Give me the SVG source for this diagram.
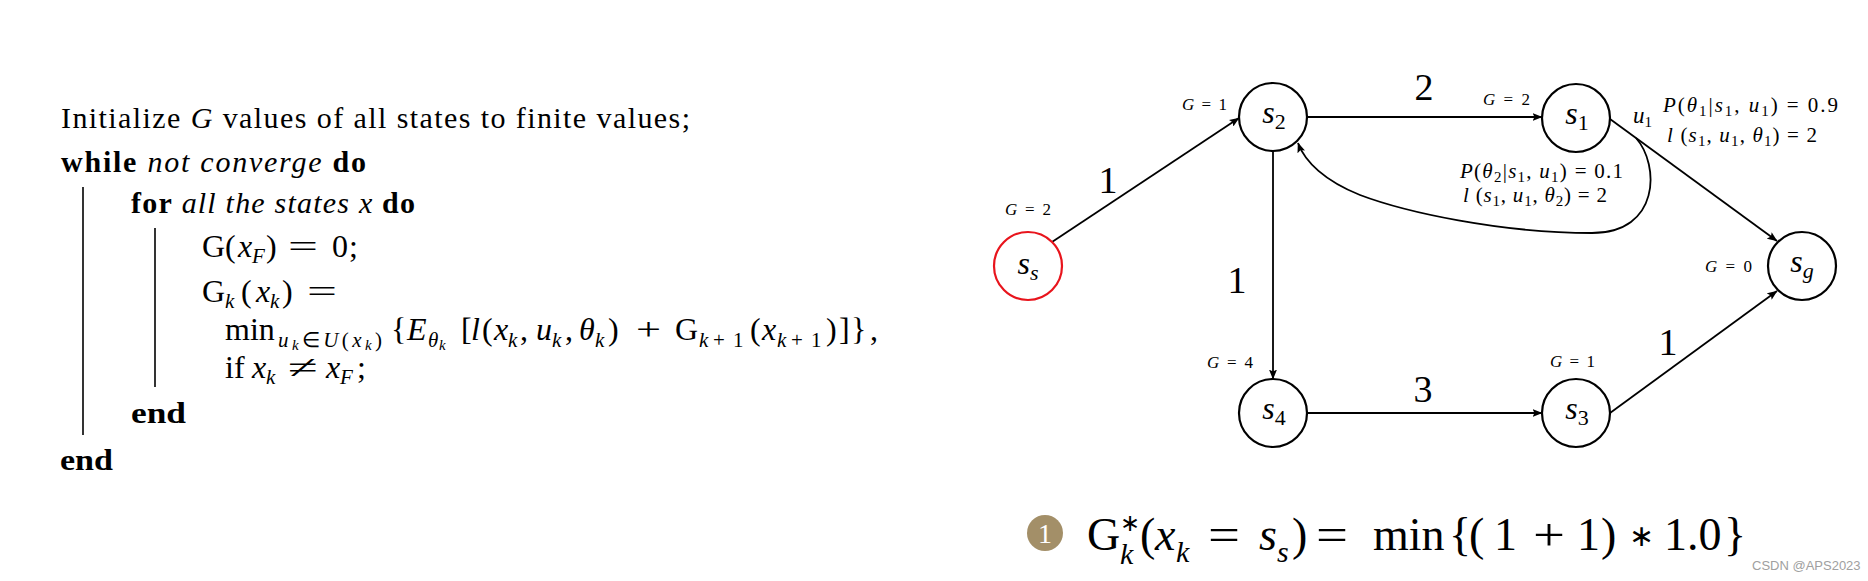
<svg xmlns="http://www.w3.org/2000/svg" width="1868" height="581" viewBox="0 0 1868 581">
<style>
text{font-family:"Liberation Serif","Times New Roman",serif;fill:#000}
.alg{font-size:30px}
.m{font-size:32px}
.b{font-weight:bold}
.i{font-style:italic}
.sub{font-size:21px}
.ss{font-size:15px}
.gl{font-size:17px}
.el{font-size:38px}
.lab{font-size:21px}
.nl{font-size:32px}
.ns{font-size:22px}
.node{fill:#fff;stroke:#000;stroke-width:2.2}
.edge{fill:none;stroke:#000;stroke-width:1.8;marker-end:url(#arr)}
.bar{stroke:#000;stroke-width:1.6}
</style>
<defs>
<marker id="arr" viewBox="0 0 10 8" refX="9.5" refY="4" markerWidth="10" markerHeight="8" markerUnits="userSpaceOnUse" orient="auto">
<path d="M0,0 L10,4 L0,8 L2,4 z" fill="#000"/>
</marker>
</defs>
<rect width="1868" height="581" fill="#fff"/>

<g id="algorithm">
<line class="bar" x1="83" y1="187" x2="83" y2="435"/>
<line class="bar" x1="155" y1="228" x2="155" y2="387"/>
<text class="alg" x="61" y="128" textLength="629" lengthAdjust="spacing">Initialize <tspan class="i">G</tspan> values of all states to finite values;</text>
<text class="alg" x="61" y="172" textLength="305" lengthAdjust="spacing"><tspan class="b">while</tspan> <tspan class="i">not converge</tspan> <tspan class="b">do</tspan></text>
<text class="alg" x="131" y="213" textLength="284" lengthAdjust="spacing"><tspan class="b">for</tspan> <tspan class="i">all the states x</tspan> <tspan class="b">do</tspan></text>

<text class="m"><tspan x="202" y="257">G</tspan><tspan x="225" y="257">(</tspan><tspan x="238" y="257" class="i">x</tspan><tspan x="252" y="263" class="sub i">F</tspan><tspan x="266" y="257">)</tspan><tspan x="332" y="257">0</tspan><tspan x="349" y="257">;</tspan></text>
<text class="m" x="288" y="257" textLength="30" lengthAdjust="spacingAndGlyphs">=</text>

<text class="m"><tspan x="202" y="302">G</tspan><tspan x="225" y="308" class="sub i">k</tspan><tspan x="241" y="302">(</tspan><tspan x="256" y="302" class="i">x</tspan><tspan x="270" y="308" class="sub i">k</tspan><tspan x="282" y="302">)</tspan></text>
<text class="m" x="307" y="302" textLength="30" lengthAdjust="spacingAndGlyphs">=</text>

<text class="m" x="225" y="340">min</text>
<text x="278" y="347" font-size="21" textLength="104" lengthAdjust="spacing"><tspan class="i">u</tspan><tspan class="ss i" dy="3">k</tspan><tspan dy="-3">∈</tspan><tspan class="i">U</tspan>(<tspan class="i">x</tspan><tspan class="ss i" dy="3">k</tspan><tspan dy="-3">)</tspan></text>
<text class="m"><tspan x="391" y="340">{</tspan><tspan x="407" y="340" class="i">E</tspan><tspan x="428" y="347" class="sub i">θ</tspan><tspan x="439" y="350" class="ss i">k</tspan><tspan x="461" y="340">[</tspan><tspan x="471" y="340" class="i">l</tspan><tspan x="482" y="340">(</tspan><tspan x="494" y="340" class="i">x</tspan><tspan x="508" y="347" class="sub i">k</tspan><tspan x="520" y="340">,</tspan><tspan x="536" y="340" class="i">u</tspan><tspan x="552" y="347" class="sub i">k</tspan><tspan x="565" y="340">,</tspan><tspan x="579" y="340" class="i">θ</tspan><tspan x="595" y="347" class="sub i">k</tspan><tspan x="608" y="340">)</tspan></text>
<text class="m" x="636" y="340" textLength="25" lengthAdjust="spacingAndGlyphs">+</text>
<text class="m"><tspan x="675" y="340">G</tspan><tspan x="699" y="347" class="sub i">k</tspan><tspan x="713" y="347" class="sub">+</tspan><tspan x="733" y="347" class="sub">1</tspan><tspan x="750" y="340">(</tspan><tspan x="762" y="340" class="i">x</tspan><tspan x="777" y="347" class="sub i">k</tspan><tspan x="791" y="347" class="sub">+</tspan><tspan x="811" y="347" class="sub">1</tspan><tspan x="826" y="340">)</tspan><tspan x="839" y="340">]</tspan><tspan x="851" y="340">}</tspan><tspan x="870" y="340">,</tspan></text>

<text class="m"><tspan x="225" y="378">if</tspan><tspan x="252" y="378" class="i">x</tspan><tspan x="266" y="384" class="sub i">k</tspan><tspan x="326" y="378" class="i">x</tspan><tspan x="340" y="384" class="sub i">F</tspan><tspan x="357" y="378">;</tspan></text>
<text class="m" x="288" y="378" textLength="30" lengthAdjust="spacingAndGlyphs">≠</text>

<text class="alg b" x="131" y="423" textLength="55" lengthAdjust="spacingAndGlyphs">end</text>
<text class="alg b" x="60" y="470" textLength="53" lengthAdjust="spacingAndGlyphs">end</text>
</g>

<g id="connectors">
<line class="edge" x1="1052" y1="242" x2="1239" y2="118"/>
<line class="edge" x1="1307" y1="117" x2="1542" y2="117"/>
<line class="edge" x1="1273" y1="151" x2="1273" y2="379"/>
<line class="edge" x1="1307" y1="413" x2="1542" y2="413"/>
<line class="edge" x1="1610" y1="413" x2="1777" y2="291"/>
<line class="edge" x1="1610" y1="119" x2="1777" y2="241"/>
<path class="edge" d="M1636,138 C1660,165 1660,233 1592,233 C1500,233 1405,212 1360,195 C1325,181 1305,162 1298,143"/>
<text class="el" x="1108" y="193" text-anchor="middle">1</text>
<text class="el" x="1424" y="100" text-anchor="middle">2</text>
<text class="el" x="1237" y="293" text-anchor="middle">1</text>
<text class="el" x="1423" y="402" text-anchor="middle">3</text>
<text class="el" x="1668" y="355" text-anchor="middle">1</text>
<text x="1633" y="123" font-size="23"><tspan class="i">u</tspan><tspan class="ss" dy="4">1</tspan></text>
<text class="lab" x="1663" y="112" textLength="175" lengthAdjust="spacing"><tspan class="i">P</tspan>(<tspan class="i">θ</tspan><tspan class="ss" dy="4">1</tspan><tspan dy="-4">|</tspan><tspan class="i">s</tspan><tspan class="ss" dy="4">1</tspan><tspan dy="-4">, </tspan><tspan class="i">u</tspan><tspan class="ss" dy="4">1</tspan><tspan dy="-4">) = 0.9</tspan></text>
<text class="lab" x="1667" y="142" textLength="150" lengthAdjust="spacing"><tspan class="i">l</tspan> (<tspan class="i">s</tspan><tspan class="ss" dy="4">1</tspan><tspan dy="-4">, </tspan><tspan class="i">u</tspan><tspan class="ss" dy="4">1</tspan><tspan dy="-4">, </tspan><tspan class="i">θ</tspan><tspan class="ss" dy="4">1</tspan><tspan dy="-4">) = 2</tspan></text>
<text class="lab" x="1460" y="178" textLength="163" lengthAdjust="spacing"><tspan class="i">P</tspan>(<tspan class="i">θ</tspan><tspan class="ss" dy="4">2</tspan><tspan dy="-4">|</tspan><tspan class="i">s</tspan><tspan class="ss" dy="4">1</tspan><tspan dy="-4">, </tspan><tspan class="i">u</tspan><tspan class="ss" dy="4">1</tspan><tspan dy="-4">) = 0.1</tspan></text>
<text class="lab" x="1463" y="202" textLength="144" lengthAdjust="spacing"><tspan class="i">l</tspan> (<tspan class="i">s</tspan><tspan class="ss" dy="4">1</tspan><tspan dy="-4">, </tspan><tspan class="i">u</tspan><tspan class="ss" dy="4">1</tspan><tspan dy="-4">, </tspan><tspan class="i">θ</tspan><tspan class="ss" dy="4">2</tspan><tspan dy="-4">) = 2</tspan></text>
</g>

<g id="node-ss">
<circle cx="1028" cy="266" r="34" fill="#fff" stroke="#e8141c" stroke-width="2.2"/>
<text class="nl" x="1028" y="274" text-anchor="middle"><tspan class="i">s</tspan><tspan class="ns i" dy="6">s</tspan></text>
<text class="gl" x="1005" y="215" textLength="46" lengthAdjust="spacing"><tspan class="i">G</tspan> = 2</text>
</g>
<g id="node-s2">
<circle class="node" cx="1273" cy="117" r="34"/>
<text class="nl" x="1274" y="123" text-anchor="middle"><tspan class="i">s</tspan><tspan class="ns" dy="6">2</tspan></text>
<text class="gl" x="1182" y="110" textLength="45" lengthAdjust="spacing"><tspan class="i">G</tspan> = 1</text>
</g>
<g id="node-s1">
<circle class="node" cx="1576" cy="118" r="34"/>
<text class="nl" x="1577" y="124" text-anchor="middle"><tspan class="i">s</tspan><tspan class="ns" dy="6">1</tspan></text>
<text class="gl" x="1483" y="105" textLength="47" lengthAdjust="spacing"><tspan class="i">G</tspan> = 2</text>
</g>
<g id="node-sg">
<circle class="node" cx="1802" cy="266" r="34"/>
<text class="nl" x="1802" y="272" text-anchor="middle"><tspan class="i">s</tspan><tspan class="ns i" dy="6">g</tspan></text>
<text class="gl" x="1705" y="272" textLength="47" lengthAdjust="spacing"><tspan class="i">G</tspan> = 0</text>
</g>
<g id="node-s4">
<circle class="node" cx="1273" cy="413" r="34"/>
<text class="nl" x="1274" y="419" text-anchor="middle"><tspan class="i">s</tspan><tspan class="ns" dy="6">4</tspan></text>
<text class="gl" x="1207" y="368" textLength="46" lengthAdjust="spacing"><tspan class="i">G</tspan> = 4</text>
</g>
<g id="node-s3">
<circle class="node" cx="1576" cy="413" r="34"/>
<text class="nl" x="1577" y="419" text-anchor="middle"><tspan class="i">s</tspan><tspan class="ns" dy="6">3</tspan></text>
<text class="gl" x="1550" y="367" textLength="45" lengthAdjust="spacing"><tspan class="i">G</tspan> = 1</text>
</g>

<g id="formula">
<circle cx="1045" cy="533" r="18" fill="#a38f68"/>
<text x="1045" y="543" text-anchor="middle" font-size="28" style="fill:#fff">1</text>
<text font-size="46">
<tspan x="1087" y="550">G</tspan>
<tspan x="1120" y="531" font-size="24">∗</tspan>
<tspan x="1120" y="564" font-size="30" class="i">k</tspan>
<tspan x="1140" y="550">(</tspan>
<tspan x="1155" y="550" class="i">x</tspan>
<tspan x="1176" y="562" font-size="30" class="i">k</tspan>
</text>
<text font-size="46" x="1208" y="550" textLength="32" lengthAdjust="spacingAndGlyphs">=</text>
<text font-size="46">
<tspan x="1259" y="550" class="i">s</tspan>
<tspan x="1277" y="562" font-size="30" class="i">s</tspan>
<tspan x="1292" y="550">)</tspan>
</text>
<text font-size="46" x="1316" y="550" textLength="32" lengthAdjust="spacingAndGlyphs">=</text>
<text font-size="46">
<tspan x="1373" y="550">min</tspan>
<tspan x="1449" y="550">{</tspan>
<tspan x="1469" y="550">(</tspan>
<tspan x="1494" y="550">1</tspan>
</text>
<text font-size="46" x="1533" y="550" textLength="32" lengthAdjust="spacingAndGlyphs">+</text>
<text font-size="46">
<tspan x="1577" y="550">1</tspan>
<tspan x="1601" y="550">)</tspan>
<tspan x="1629" y="546" font-size="30">∗</tspan>
<tspan x="1664" y="550">1.0</tspan>
<tspan x="1724" y="550">}</tspan>
</text>
<text x="1752" y="570" font-size="13" style="font-family:'Liberation Sans',Arial,sans-serif;fill:#a0a0a0">CSDN @APS2023</text>
</g>
</svg>
